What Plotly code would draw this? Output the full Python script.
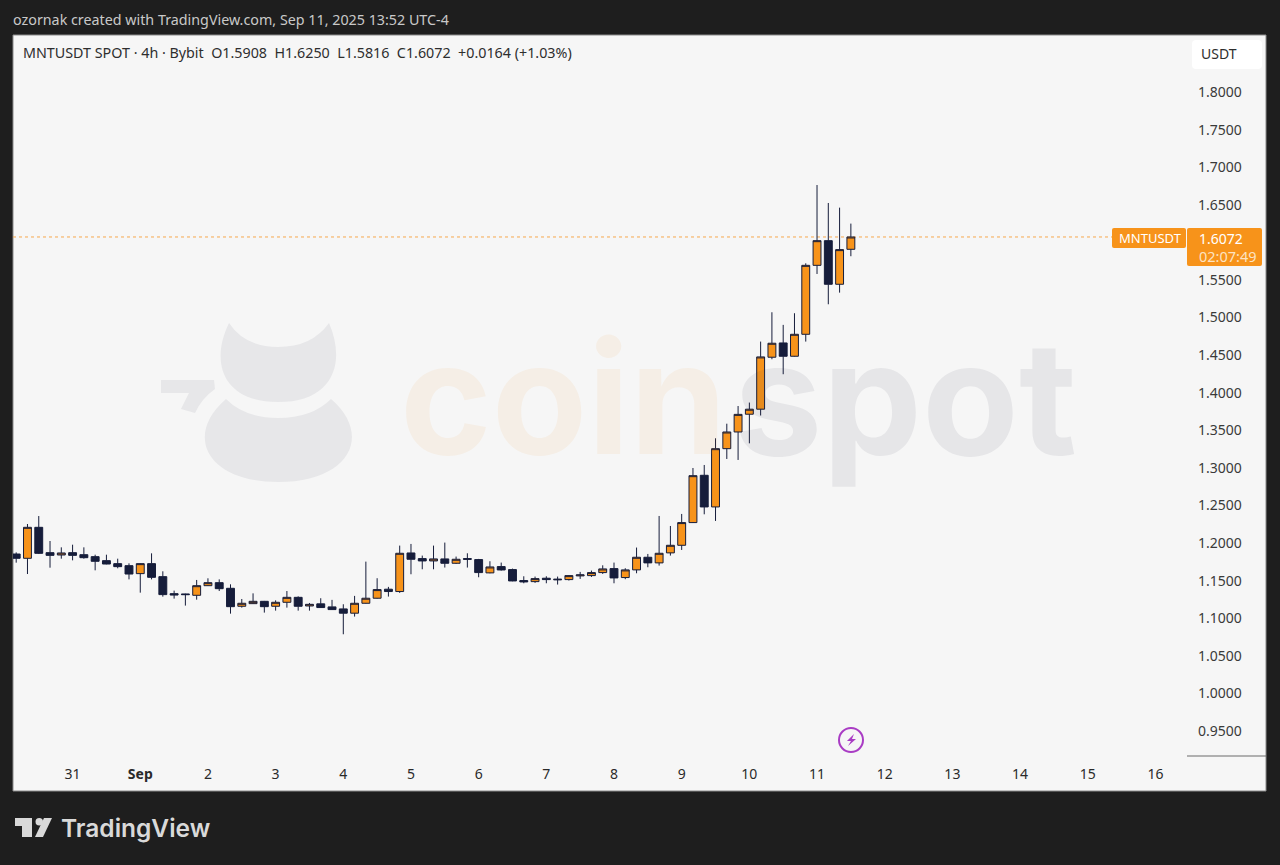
import pandas as pd
import plotly.graph_objects as go

# 4h candles, first one is Aug 30 04:00
times = pd.date_range("2025-08-30 04:00", periods=75, freq="4h")

opens = [1.1856, 1.1799, 1.2211, 1.1874, 1.1843, 1.1874, 1.1847, 1.1821, 1.1768, 1.1728,
         1.1701, 1.1595, 1.1728, 1.1555, 1.1329, 1.1325, 1.1307, 1.1435, 1.1475, 1.1400,
         1.1161, 1.1196, 1.1227, 1.1161, 1.1214, 1.1280, 1.1165, 1.1193, 1.1153, 1.1126,
         1.1069, 1.1201, 1.1268, 1.1388, 1.1357, 1.1870, 1.1795, 1.1764, 1.1791, 1.1733,
         1.1795, 1.1782, 1.1605, 1.1689, 1.1649, 1.1503, 1.1489, 1.1534, 1.1512, 1.1516,
         1.1565, 1.1569, 1.1609, 1.1662, 1.1543, 1.1645, 1.1813, 1.1738, 1.1871, 1.1972,
         1.2274, 1.2903, 1.2482, 1.3257, 1.3479, 1.3715, 1.3782, 1.4473, 1.4663, 1.4486,
         1.4778, 1.5695, 1.6023, 1.5443, 1.5908]
highs = [1.1878, 1.2255, 1.2361, 1.2029, 1.1945, 1.1980, 1.1945, 1.1847, 1.1847, 1.1794,
         1.1732, 1.1732, 1.1865, 1.1626, 1.1369, 1.1329, 1.1511, 1.1533, 1.1519, 1.1453,
         1.1258, 1.1333, 1.1232, 1.1240, 1.1364, 1.1293, 1.1205, 1.1268, 1.1246, 1.1188,
         1.1299, 1.1755, 1.1534, 1.1419, 1.1968, 1.1990, 1.1835, 1.1968, 1.2008, 1.1822,
         1.1866, 1.1791, 1.1760, 1.1742, 1.1662, 1.1560, 1.1556, 1.1560, 1.1556, 1.1574,
         1.1618, 1.1636, 1.1706, 1.1742, 1.1667, 1.1942, 1.1857, 1.2362, 1.2229, 1.2389,
         1.3000, 1.3040, 1.3395, 1.3589, 1.3824, 1.3870, 1.4681, 1.5071, 1.4903, 1.5058,
         1.5722, 1.6763, 1.6524, 1.6462, 1.6250]
lows = [1.1741, 1.1590, 1.1856, 1.1674, 1.1794, 1.1772, 1.1794, 1.1639, 1.1719, 1.1666,
        1.1519, 1.1342, 1.1519, 1.1289, 1.1263, 1.1170, 1.1249, 1.1431, 1.1364, 1.1063,
        1.1143, 1.1192, 1.1077, 1.1103, 1.1143, 1.1103, 1.1103, 1.1144, 1.1113, 1.0789,
        1.1024, 1.1197, 1.1263, 1.1290, 1.1339, 1.1587, 1.1653, 1.1653, 1.1676, 1.1724,
        1.1676, 1.1547, 1.1600, 1.1636, 1.1494, 1.1467, 1.1472, 1.1467, 1.1450, 1.1503,
        1.1525, 1.1551, 1.1591, 1.1467, 1.1521, 1.1600, 1.1680, 1.1702, 1.1835, 1.1910,
        1.2269, 1.2384, 1.2296, 1.3120, 1.3107, 1.3328, 1.3698, 1.4446, 1.4247, 1.4482,
        1.4681, 1.5580, 1.5177, 1.5332, 1.5816]
closes = [1.1799, 1.2211, 1.1865, 1.1838, 1.1870, 1.1838, 1.1807, 1.1759, 1.1723, 1.1688,
          1.1590, 1.1728, 1.1546, 1.1316, 1.1311, 1.1316, 1.1435, 1.1475, 1.1395, 1.1156,
          1.1201, 1.1227, 1.1156, 1.1214, 1.1280, 1.1161, 1.1187, 1.1144, 1.1117, 1.1069,
          1.1201, 1.1268, 1.1383, 1.1357, 1.1866, 1.1786, 1.1764, 1.1791, 1.1733, 1.1786,
          1.1786, 1.1609, 1.1684, 1.1644, 1.1498, 1.1485, 1.1529, 1.1516, 1.1520, 1.1569,
          1.1578, 1.1609, 1.1658, 1.1538, 1.1645, 1.1813, 1.1738, 1.1866, 1.1972, 1.2274,
          1.2898, 1.2482, 1.3257, 1.3479, 1.3713, 1.3782, 1.4477, 1.4659, 1.4486, 1.4778,
          1.5695, 1.6023, 1.5443, 1.5904, 1.6072]

price_ticks = [1.80, 1.75, 1.70, 1.65, 1.60, 1.55, 1.50, 1.45, 1.40, 1.35, 1.30, 1.25,
               1.20, 1.15, 1.10, 1.05, 1.00, 0.95]
price_labels = ["1.8000", "1.7500", "1.7000", "1.6500", "", "1.5500", "1.5000", "1.4500", "1.4000",
                "1.3500", "1.3000", "1.2500", "1.2000", "1.1500", "1.1000", "1.0500", "1.0000", "0.9500"]
day_ticks = pd.date_range("2025-08-31", "2025-09-16", freq="D")
day_labels = ["31", "<b>Sep</b>", "2", "3", "4", "5", "6", "7", "8", "9", "10", "11", "12", "13", "14", "15", "16"]
last_close = 1.6072

ORANGE = "#f7931a"
NAVY = "#161d3b"
PANEL = "#f6f6f6"
FONT = "Noto Sans"

# plot area in page pixels
L, R, T, B = 13, 1187, 35, 756


def px(x):
    return (x - L) / (R - L)


def py(y):
    return (B - y) / (B - T)


def path(*parts):
    # parts are svg commands with pixel pairs, e.g. ("M", 10, 20)
    out = []
    for p in parts:
        cmd, nums = p[0], p[1:]
        xy = [f"{px(nums[i]):.5f},{py(nums[i + 1]):.5f}" for i in range(0, len(nums), 2)]
        out.append(cmd + " ".join(xy))
    return " ".join(out) + " Z"


def box(x0, y0, x1, y1, fill, layer="below", line=None):
    return dict(type="rect", xref="paper", yref="paper", x0=px(x0), x1=px(x1), y0=py(y0), y1=py(y1),
                fillcolor=fill, line=dict(width=1 if line else 0, color=line or fill), layer=layer)


def blob(d, fill, layer="below"):
    return dict(type="path", xref="paper", yref="paper", path=d, fillcolor=fill, line=dict(width=0), layer=layer)


def rounded(x0, y0, x1, y1, r):
    return path(("M", x0 + r, y0), ("L", x1 - r, y0), ("Q", x1, y0, x1, y0 + r), ("L", x1, y1 - r),
                ("Q", x1, y1, x1 - r, y1), ("L", x0 + r, y1), ("Q", x0, y1, x0, y1 - r), ("L", x0, y0 + r),
                ("Q", x0, y0, x0 + r, y0))


def label(x, y, text, size=13, color="#2e2e2e", anchor="left", family=FONT, weight=None):
    return dict(xref="paper", yref="paper", x=px(x), y=py(y), text=text, showarrow=False, xanchor=anchor,
                yanchor="middle", borderpad=0, font=dict(size=size, color=color, family=family, weight=weight))


fig = go.Figure(go.Candlestick(
    x=times, open=opens, high=highs, low=lows, close=closes,
    increasing=dict(line=dict(color=NAVY, width=1), fillcolor=ORANGE),
    decreasing=dict(line=dict(color=NAVY, width=1), fillcolor=NAVY),
    whiskerwidth=0, showlegend=False,
))

shapes = [
    box(13, 35, 1266, 791, PANEL, line="#8a8a8a"),
    # coinspot mascot watermark
    blob(path(("M", 229, 323), ("Q", 245, 347, 278, 347), ("Q", 312, 347, 329, 323),
              ("C", 346, 362, 334, 402, 278, 402), ("C", 222, 402, 210, 362, 229, 323)), "#e7e7e9"),
    blob(path(("M", 226, 399), ("Q", 245, 418, 278, 418), ("Q", 312, 418, 331, 399),
              ("C", 373, 435, 350, 482, 278, 482), ("C", 206, 482, 184, 435, 226, 399)), "#e7e7e9"),
    blob(path(("M", 161, 380), ("L", 214, 380), ("L", 215, 389), ("Q", 202, 398, 195, 413), ("L", 181, 409),
              ("L", 189, 393), ("L", 161, 393)), "#e7e7e9"),
    # price pane
    blob(rounded(1192, 40, 1262, 69, 4), "#ffffff"),
    dict(type="line", xref="paper", yref="paper", x0=px(1187), x1=px(1266), y0=py(756), y1=py(756),
         line=dict(color="#6a6a6a", width=1)),
    # last price line and tags
    dict(type="line", xref="paper", yref="y", x0=px(13), x1=px(1112), y0=last_close, y1=last_close,
         line=dict(color="#f7a94e", width=1, dash="dot"), layer="below"),
    blob(rounded(1112, 228, 1186, 248, 2), ORANGE, layer="above"),
    blob(rounded(1187, 228, 1262, 266, 2), ORANGE, layer="above"),
    # lightning badge
    dict(type="circle", xref="paper", yref="paper", x0=px(839), x1=px(863), y0=py(728), y1=py(752),
         line=dict(color="#a93cc4", width=2), fillcolor="rgba(0,0,0,0)"),
    blob(path(("M", 854, 734), ("L", 847, 741), ("L", 851, 741), ("L", 848, 746), ("L", 856, 739), ("L", 852, 739)),
         "#a93cc4", layer="above"),
    # TradingView logo
    blob(path(("M", 15, 818), ("L", 32, 818), ("L", 32, 837), ("L", 22, 837), ("L", 22, 826), ("L", 15, 826)),
         "#d9d9d9", layer="above"),
    dict(type="circle", xref="paper", yref="paper", x0=px(35.5), x1=px(43), y0=py(818), y1=py(825.5),
         fillcolor="#d9d9d9", line=dict(width=0)),
    blob(path(("M", 44, 818), ("L", 52, 818), ("L", 43, 837), ("L", 35, 837)), "#d9d9d9", layer="above"),
]

annotations = [
    label(12, 19, "ozornak created with TradingView.com, Sep 11, 2025 13:52 UTC-4", size=14.3, color="#c9c9c9"),
    label(22, 53, "MNTUSDT SPOT · 4h · Bybit  O1.5908  H1.6250  L1.5816  C1.6072  +0.0164 (+1.03%)", size=14.3),
    label(1219, 54, "USDT", size=14, anchor="center"),
    label(1118, 238, "MNTUSDT", size=13, color="#ffffff"),
    label(1198, 238, "1.6072", size=14, color="#ffffff"),
    label(1198, 256, "02:07:49", size=14.5, color="#fde3c2"),
    label(60, 828, "TradingView", size=24.5, color="#d9d9d9", family="Inter", weight=600),
    # watermark is translucent so the candles still read through it
    label(399, 397, "coin", size=156, color="rgba(240,150,50,0.08)", family="Inter", weight=700),
    label(733, 397, "spot", size=158, color="rgba(40,40,70,0.075)", family="Inter", weight=700),
]

fig.update_layout(
    width=1280, height=865,
    margin=dict(l=L, r=1280 - R, t=T, b=865 - B),
    paper_bgcolor="#1e1e1e", plot_bgcolor="rgba(0,0,0,0)",
    boxgap=0,
    shapes=shapes, annotations=annotations,
    font=dict(family=FONT, size=14, color="#2e2e2e"),
    xaxis=dict(
        type="date", rangeslider=dict(visible=False),
        range=["2025-08-30 02:52", "2025-09-16 11:12"],
        tickmode="array", tickvals=day_ticks, ticktext=day_labels,
        showgrid=False, zeroline=False, showline=False, ticks="", ticklabelstandoff=8,
        tickfont=dict(size=14, color="#2a2a2a"),
    ),
    yaxis=dict(
        side="right", range=[0.9170, 1.8758],
        tickmode="array", tickvals=price_ticks, ticktext=price_labels,
        showgrid=False, zeroline=False, showline=False, ticks="", ticklabelstandoff=10,
        tickfont=dict(size=14, color="#3a3a3a"),
    ),
)

# page has a default body margin, drop it so the figure sits at 0,0
fig.write_html("out.html", config={"displayModeBar": False}, post_script="document.body.style.margin='0';")
